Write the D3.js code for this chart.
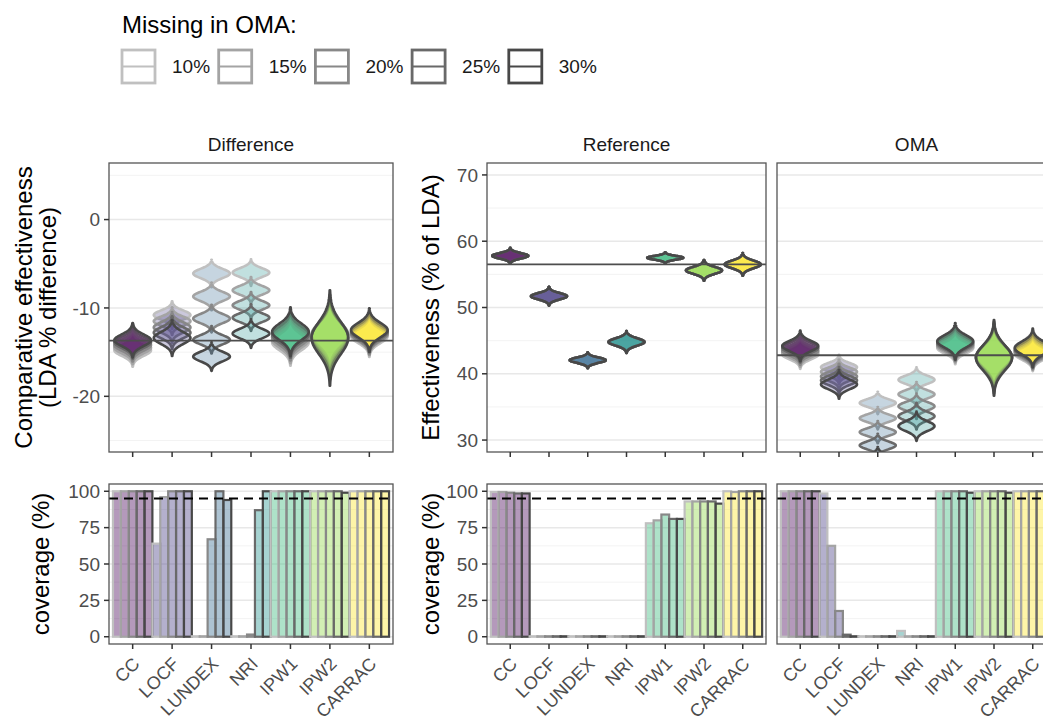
<!DOCTYPE html>
<html>
<head>
<meta charset="utf-8">
<script src="https://cdn.jsdelivr.net/npm/d3@7"></script>
<style>
body{margin:0;background:#fff;}
text{font-family:"Liberation Sans",Arial,sans-serif;}
</style>
</head>
<body>
<svg id="chart" width="1043" height="722"></svg>
<script>
// ---- data ----
var METHODS=["CC","LOCF","LUNDEX","NRI","IPW1","IPW2","CARRAC"];
var LEVELS=["10%","15%","20%","25%","30%"];

// Difference panel: violin centre / sd, rows = methods, cols = levels
var diffMean=[
	[-14.8,-14.5,-14.2,-13.9,-13.65],
	[-10.8,-11.5,-12.2,-12.8,-13.4],
	[-6.1,-8.7,-11.2,-13.6,-15.5],
	[-6.0,-8.0,-9.7,-11.1,-12.9],
	[-13.9,-13.6,-13.3,-13.0,-12.7],
	[-13.0,-13.1,-13.2,-13.3,-13.4],
	[-13.2,-13.0,-12.9,-12.7,-12.5]
];
var diffSd=[
	[0.62,0.62,0.62,0.62,0.65],
	[0.52,0.52,0.58,0.62,0.68],
	[0.52,0.52,0.52,0.52,0.54],
	[0.5,0.5,0.5,0.5,0.54],
	[0.88,0.88,0.88,0.88,0.92],
	[1.3,1.4,1.5,1.6,1.8],
	[0.78,0.78,0.78,0.78,0.82]
];
// Reference panel: one distribution per method (same for every level)
var refMean=[57.8,51.7,42.05,44.8,57.5,55.6,56.5];
var refSd=[0.4,0.47,0.4,0.55,0.28,0.52,0.57];
// OMA panel
var omaMean=[
	[42.9,43.2,43.5,43.9,44.2],
	[41.0,40.3,39.6,39.0,38.4],
	[35.6,33.3,31.2,29.2,27.2],
	[39.1,36.9,35.1,33.6,32.1],
	[43.9,44.15,44.4,44.65,44.9],
	[42.6,42.55,42.5,42.45,42.4],
	[43.0,43.2,43.4,43.65,43.9]
];
var omaSd=[
	[0.72,0.72,0.72,0.74,0.77],
	[0.62,0.62,0.64,0.67,0.72],
	[0.56,0.56,0.56,0.58,0.58],
	[0.62,0.62,0.64,0.67,0.74],
	[0.82,0.82,0.84,0.87,0.92],
	[1.6,1.65,1.7,1.8,1.9],
	[0.87,0.87,0.9,0.92,0.97]
];
// reference lines (top row)
var diffLine=-13.7, refLine=56.5, omaLine=42.8;

// coverage (%)
var covDiff=[
	[100,100,100,100,100],
	[64,96,100,100,100],
	[0.3,0.3,67,100,94],
	[0.3,0.3,1.5,87,100],
	[100,100,100,100,100],
	[100,100,100,100,99],
	[100,100,100,100,100]
];
var covRef=[
	[99.5,99.5,99,98.5,98.5],
	[0.3,0.3,0.3,0.3,0.3],
	[0.3,0.3,0.3,0.3,0.3],
	[0.3,0.3,0.3,0.3,0.3],
	[78,80,84,81,81],
	[93,93,93,93,91.5],
	[100,99.5,100,100,100]
];
var covOma=[
	[100,100,100,100,100],
	[98.5,62.5,17.7,1.4,0.3],
	[0.3,0.3,0.3,0.3,0.3],
	[4,0.3,0.3,0.3,0.3],
	[100,100,100,100,99],
	[100,100,100,100,99],
	[100,100,100,100,100]
];
var covTarget=95;

// ---- style ----
var METHODCOLORS=["#440154","#443A83","#31688E","#21908C","#35B779","#8FD744","#FDE725"];
var LEVELGREYS=["#c0c0c0","#a4a4a4","#888888","#696969","#484848"];
var TICKCOLOR="#4d4d4d";
var TOPY0=163,TOPY1=452,BOTY0=484,BOTY1=644;
var PANELS=[
	{name:"Difference",x0:109,x1:393},
	{name:"Reference",x0:487,x1:766},
	{name:"OMA",x0:777,x1:1056}
];

var svg=d3.select("#chart");
var defs=svg.append("defs");

var yDiff=d3.scaleLinear().domain([-26.3,6.4]).range([TOPY1,TOPY0]);
var yEff=d3.scaleLinear().domain([28.2,71.8]).range([TOPY1,TOPY0]);
var yCov=d3.scaleLinear().domain([-5,105]).range([BOTY1,BOTY0]);

PANELS.forEach(function(p){
	p.x=d3.scalePoint().domain(METHODS).range([p.x0,p.x1]).padding(0.6);
});

var clipNo=0;
function panelBase(p,y0,y1,yScale,majors,minors){
	var g=svg.append("g");
	g.append("rect").attr("x",p.x0).attr("y",y0).attr("width",p.x1-p.x0).attr("height",y1-y0).attr("fill","#fff");
	minors.forEach(function(v){
		g.append("line").attr("x1",p.x0).attr("x2",p.x1).attr("y1",yScale(v)).attr("y2",yScale(v))
			.style("stroke","#f2f2f2").style("stroke-width",0.9);
	});
	majors.forEach(function(v){
		g.append("line").attr("x1",p.x0).attr("x2",p.x1).attr("y1",yScale(v)).attr("y2",yScale(v))
			.style("stroke","#e8e8e8").style("stroke-width",1.5);
	});
	clipNo++;
	defs.append("clipPath").attr("id","clip"+clipNo).append("rect")
		.attr("x",p.x0).attr("y",y0).attr("width",p.x1-p.x0).attr("height",y1-y0);
	var inner=svg.append("g").attr("clip-path","url(#clip"+clipNo+")");
	return inner;
}

function panelBorder(p,y0,y1){
	svg.append("rect").attr("x",p.x0).attr("y",y0).attr("width",p.x1-p.x0).attr("height",y1-y0)
		.attr("fill","none").style("stroke","#555").style("stroke-width",1.3);
	// x tick marks
	METHODS.forEach(function(m){
		svg.append("line").attr("x1",p.x(m)).attr("x2",p.x(m)).attr("y1",y1).attr("y2",y1+5)
			.style("stroke","#333").style("stroke-width",1.5);
	});
}

function yAxis(p,yScale,values){
	values.forEach(function(v){
		svg.append("line").attr("x1",p.x0-5).attr("x2",p.x0).attr("y1",yScale(v)).attr("y2",yScale(v))
			.style("stroke","#333").style("stroke-width",1.5);
		svg.append("text").text(v).attr("x",p.x0-9).attr("y",yScale(v)).attr("dy","0.35em")
			.attr("text-anchor","end").style("font-size","19px").style("fill",TICKCOLOR);
	});
}

function xLabels(p,y1){
	METHODS.forEach(function(m){
		svg.append("text").text(m)
			.attr("transform","translate("+(p.x(m)-1)+","+(y1+12)+") rotate(-45)")
			.attr("dy","0.71em").attr("text-anchor","end")
			.style("font-size","18px").style("fill",TICKCOLOR);
	});
}

//小提琴形状（正态密度）
function violinPath(cx,mean,sd,yScale,hw){
	var pts=d3.range(-3,3.0001,0.1).map(function(z){return {v:mean+z*sd,w:hw*Math.exp(-z*z/2)};});
	return d3.area().y(function(d){return yScale(d.v);})
		.x0(function(d){return cx-d.w;}).x1(function(d){return cx+d.w;})(pts);
}

function drawViolins(g,p,yScale,meanOf,sdOf){
	var hw=p.x.step()*0.465;
	METHODS.forEach(function(m,i){
		LEVELS.forEach(function(l,j){
			g.append("path").attr("d",violinPath(p.x(m),meanOf(i,j),sdOf(i,j),yScale,hw))
				.attr("fill",METHODCOLORS[i]).attr("fill-opacity",0.28)
				.style("stroke",LEVELGREYS[j]).style("stroke-width",2.6).style("stroke-linejoin","round");
		});
	});
}

function drawBars(g,p,values){
	var step=p.x.step();
	var inner=d3.scaleBand().domain(LEVELS).range([-step/2,step/2]);
	METHODS.forEach(function(m,i){
		LEVELS.forEach(function(l,j){
			var v=values[i][j];
			g.append("rect").attr("x",p.x(m)+inner(l)).attr("width",inner.bandwidth())
				.attr("y",yCov(v)).attr("height",yCov(0)-yCov(v))
				.attr("fill",METHODCOLORS[i]).attr("fill-opacity",0.4)
				.style("stroke",LEVELGREYS[j]).style("stroke-width",2.2);
		});
	});
	g.append("line").attr("x1",p.x0).attr("x2",p.x1).attr("y1",yCov(covTarget)).attr("y2",yCov(covTarget))
		.style("stroke","#000").style("stroke-width",1.9).style("stroke-dasharray","9,6");
}

function hLine(g,p,yScale,v){
	g.append("line").attr("x1",p.x0).attr("x2",p.x1).attr("y1",yScale(v)).attr("y2",yScale(v))
		.style("stroke","#4d4d4d").style("stroke-width",1.9);
}

// ---- top row ----
var gd=panelBase(PANELS[0],TOPY0,TOPY1,yDiff,[-20,-10,0],[-25,-15,-5,5]);
drawViolins(gd,PANELS[0],yDiff,function(i,j){return diffMean[i][j];},function(i,j){return diffSd[i][j];});
hLine(gd,PANELS[0],yDiff,diffLine);
panelBorder(PANELS[0],TOPY0,TOPY1);
yAxis(PANELS[0],yDiff,[0,-10,-20]);

var gr=panelBase(PANELS[1],TOPY0,TOPY1,yEff,[30,40,50,60,70],[35,45,55,65]);
drawViolins(gr,PANELS[1],yEff,function(i,j){return refMean[i];},function(i,j){return refSd[i];});
hLine(gr,PANELS[1],yEff,refLine);
panelBorder(PANELS[1],TOPY0,TOPY1);
yAxis(PANELS[1],yEff,[70,60,50,40,30]);

var go=panelBase(PANELS[2],TOPY0,TOPY1,yEff,[30,40,50,60,70],[35,45,55,65]);
drawViolins(go,PANELS[2],yEff,function(i,j){return omaMean[i][j];},function(i,j){return omaSd[i][j];});
hLine(go,PANELS[2],yEff,omaLine);
panelBorder(PANELS[2],TOPY0,TOPY1);

// ---- bottom row ----
[covDiff,covRef,covOma].forEach(function(vals,k){
	var p=PANELS[k];
	var g=panelBase(p,BOTY0,BOTY1,yCov,[0,25,50,75,100],[12.5,37.5,62.5,87.5]);
	drawBars(g,p,vals);
	panelBorder(p,BOTY0,BOTY1);
	if(k<2){yAxis(p,yCov,[100,75,50,25,0]);}
	xLabels(p,BOTY1);
});

// strip titles
PANELS.forEach(function(p){
	svg.append("text").text(p.name).attr("x",(p.x0+p.x1)/2).attr("y",151)
		.attr("text-anchor","middle").style("font-size","19px").style("fill","#1a1a1a");
});

// axis titles
function yTitle(x,y,lines){
	var t=svg.append("text").attr("transform","translate("+x+","+y+") rotate(-90)")
		.attr("text-anchor","middle").style("font-size","24px").style("fill","#000");
	lines.forEach(function(s,i){
		t.append("tspan").attr("x",0).attr("y",i*24).text(s);
	});
}
yTitle(32,(TOPY0+TOPY1)/2,["Comparative effectiveness","(LDA % difference)"]);
yTitle(439,(TOPY0+TOPY1)/2,["Effectiveness (% of LDA)"]);
yTitle(49,(BOTY0+BOTY1)/2,["coverage (%)"]);
yTitle(439,(BOTY0+BOTY1)/2,["coverage (%)"]);

// legend
svg.append("text").text("Missing in OMA:").attr("x",122).attr("y",33)
	.style("font-size","24px").style("fill","#000");
LEVELS.forEach(function(l,j){
	var kx=122+j*96.7, ky=50, ks=33;
	svg.append("rect").attr("x",kx).attr("y",ky).attr("width",ks).attr("height",ks)
		.attr("fill","#fff").style("stroke",LEVELGREYS[j]).style("stroke-width",2.8);
	svg.append("line").attr("x1",kx).attr("x2",kx+ks).attr("y1",ky+ks/2).attr("y2",ky+ks/2)
		.style("stroke",LEVELGREYS[j]).style("stroke-width",2.2);
	svg.append("text").text(l).attr("x",kx+50).attr("y",ky+ks/2).attr("dy","0.35em")
		.style("font-size","19px").style("fill","#1a1a1a");
});
</script>
</body>
</html>
